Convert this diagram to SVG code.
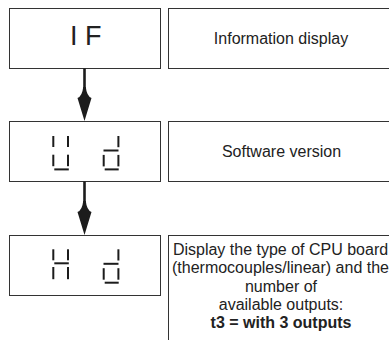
<svg xmlns="http://www.w3.org/2000/svg" xmlns:xlink="http://www.w3.org/1999/xlink" width="389" height="340" viewBox="0 0 389 340">
  <style>
    .box { fill: #ffffff; stroke: #333333; stroke-width: 1; }
    .lbl { font-family: "Liberation Sans", Arial, sans-serif; font-size: 16px; fill: #222222; text-anchor: middle; }
    .big { font-family: "Liberation Sans", Arial, sans-serif; font-size: 27px; fill: #222222; }
    .seg { fill: #1c1c1c; }
    .shaft { stroke: #1c1c1c; stroke-width: 2.6; fill: none; }
    .head { fill: #1c1c1c; }
  </style>
  <defs>
    <!-- seven-segment glyphs, origin = left edge of glyph / top of its display box -->
    <g id="glyph-u">
      <rect class="seg" x="0" y="14.3" width="2" height="11"/>
      <rect class="seg" x="14.7" y="14.3" width="2" height="11"/>
      <rect class="seg" x="0" y="33" width="2" height="11.5"/>
      <rect class="seg" x="14.7" y="33" width="2" height="11.5"/>
      <rect class="seg" x="2" y="46.7" width="14.5" height="2"/>
    </g>
    <g id="glyph-d">
      <rect class="seg" x="14.7" y="14.3" width="2" height="11.2"/>
      <rect class="seg" x="0.8" y="27.8" width="15" height="2"/>
      <rect class="seg" x="0" y="33.2" width="2" height="11.5"/>
      <rect class="seg" x="14.7" y="33.2" width="2" height="11.5"/>
      <rect class="seg" x="2" y="46.7" width="14" height="2"/>
    </g>
    <g id="glyph-H">
      <rect class="seg" x="0" y="14.3" width="2" height="11"/>
      <rect class="seg" x="14.7" y="14.3" width="2" height="11"/>
      <rect class="seg" x="2" y="27.3" width="14.5" height="2"/>
      <rect class="seg" x="0" y="32" width="2" height="12.2"/>
      <rect class="seg" x="14.7" y="32" width="2" height="12.2"/>
    </g>
    <!-- swept-back arrowhead, tip at origin -->
    <path id="arrow-head" d="M0,0 L-7,-23 Q-2.2,-25 -1.3,-34 L1.3,-34 Q2.2,-25 7,-23 Z"/>
  </defs>

  <!-- step 1: information display -->
  <g id="node-if">
    <rect class="box" x="9.5" y="8.5" width="151" height="60"/>
    <text class="big" x="70" y="45">I F</text>
  </g>
  <g id="node-if-desc">
    <rect class="box" x="168.5" y="8.5" width="240" height="60"/>
    <text class="lbl" x="281" y="43.5">Information display</text>
  </g>

  <!-- step 2: software version -->
  <g id="node-ud">
    <rect class="box" x="9.5" y="121.5" width="151" height="60"/>
    <use xlink:href="#glyph-u" x="52.3" y="121.7"/>
    <use xlink:href="#glyph-d" x="102.7" y="121.7"/>
  </g>
  <g id="node-ud-desc">
    <rect class="box" x="168.5" y="121.5" width="240" height="60"/>
    <text class="lbl" x="281.5" y="157">Software version</text>
  </g>

  <!-- step 3: CPU board type -->
  <g id="node-hd">
    <rect class="box" x="9.5" y="235.5" width="151" height="60"/>
    <use xlink:href="#glyph-H" x="52.3" y="235"/>
    <use xlink:href="#glyph-d" x="102.7" y="235"/>
  </g>
  <g id="node-hd-desc">
    <rect class="box" x="168.5" y="235.5" width="240" height="140"/>
    <text class="lbl" x="280.5" y="255">Display the type of CPU board</text>
    <text class="lbl" x="280.5" y="273.3">(thermocouples/linear) and the</text>
    <text class="lbl" x="281" y="291.7">number of</text>
    <text class="lbl" x="281" y="310">available outputs:</text>
    <text class="lbl" x="281" y="328.3" font-weight="bold">t3 = with 3 outputs</text>
  </g>

  <!-- connectors -->
  <g id="connectors">
    <line class="shaft" x1="84.5" y1="68.5" x2="84.5" y2="92"/>
    <use class="head" xlink:href="#arrow-head" x="84.5" y="121"/>
    <line class="shaft" x1="84.5" y1="181.5" x2="84.5" y2="206"/>
    <use class="head" xlink:href="#arrow-head" x="84.5" y="235"/>
  </g>
</svg>
